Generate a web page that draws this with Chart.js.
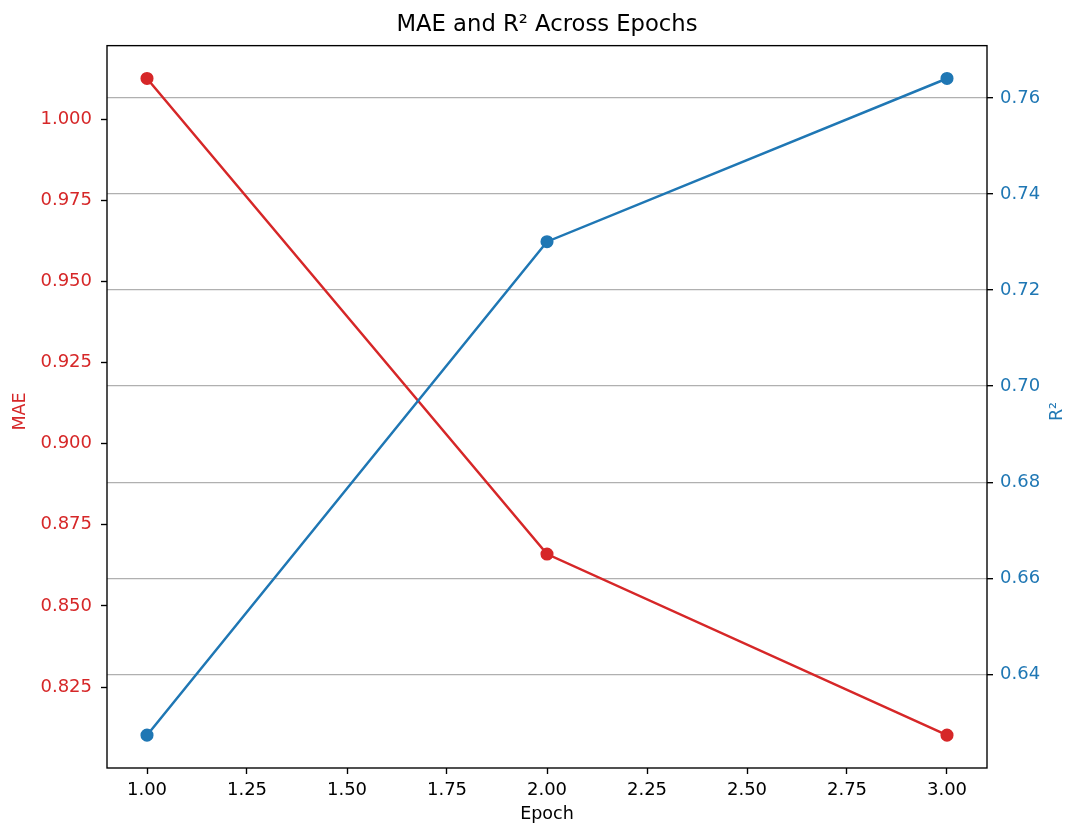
<!DOCTYPE html>
<html>
<head>
<meta charset="utf-8">
<script src="https://cdn.jsdelivr.net/npm/chart.js@4.4.0/dist/chart.umd.min.js"></script>
<style>
html,body{margin:0;padding:0;background:#ffffff;}
#wrap{width:1068px;height:825px;position:relative;}
</style>
</head>
<body>
<div id="wrap"><canvas id="c" width="1068" height="825"></canvas></div>
<script>
// ---- data ----
const epochs = [1, 2, 3];
const maeValues = [1.0125, 0.8660, 0.8102];
const r2Values = [0.6273, 0.7301, 0.7641];
const xTicks = [1.00, 1.25, 1.50, 1.75, 2.00, 2.25, 2.50, 2.75, 3.00];
const maeTicks = [0.825, 0.850, 0.875, 0.900, 0.925, 0.950, 0.975, 1.000];
const r2Ticks = [0.64, 0.66, 0.68, 0.70, 0.72, 0.74, 0.76];
const chartTitle = 'MAE and R² Across Epochs';
const xTitle = 'Epoch';
const maeTitle = 'MAE';
const r2Title = 'R²';

// ---- style ----
const RED = '#d62728';
const BLUE = '#1f77b4';
const FONT = 'DejaVu Sans';
const TICK_FONT = {family: FONT, size: 18};
const LABEL_SIZE = 17.5;
const SPINE_W = 1.37;

function padRange(arr) {
  const lo = Math.min(...arr), hi = Math.max(...arr), m = (hi - lo) * 0.05;
  return [lo - m, hi + m];
}
const xRange = padRange(epochs);
const maeRange = padRange(maeValues);
const r2Range = padRange(r2Values);

const toPoints = (xs, ys) => xs.map((x, i) => ({x: x, y: ys[i]}));
const setTicks = list => scale => { scale.ticks = list.map(v => ({value: v})); };

const decorPlugin = {
  id: 'decor',
  afterDatasetsDraw(chart) {
    const {ctx, chartArea: a} = chart;
    ctx.save();
    ctx.strokeStyle = '#000';
    ctx.lineWidth = SPINE_W;
    ctx.strokeRect(a.left, a.top, a.right - a.left, a.bottom - a.top);
    ctx.restore();
  },
  afterDraw(chart) {
    const {ctx} = chart;
    const cy = 411.5;
    ctx.save();
    ctx.font = LABEL_SIZE + 'px "' + FONT + '"';
    ctx.textAlign = 'center';
    ctx.textBaseline = 'middle';
    ctx.fillStyle = RED;
    ctx.translate(20.5, cy);
    ctx.rotate(-Math.PI / 2);
    ctx.fillText(maeTitle, 0, 0);
    ctx.restore();
    ctx.save();
    ctx.font = LABEL_SIZE + 'px "' + FONT + '"';
    ctx.textAlign = 'center';
    ctx.textBaseline = 'middle';
    ctx.fillStyle = BLUE;
    ctx.translate(1057.5, cy);
    ctx.rotate(-Math.PI / 2);
    ctx.fillText(r2Title, 0, 0);
    ctx.restore();
  }
};

new Chart(document.getElementById('c'), {
  type: 'line',
  data: {
    datasets: [
      {
        label: 'R²', data: toPoints(epochs, r2Values), yAxisID: 'y2', order: 1,
        borderColor: BLUE, backgroundColor: BLUE, borderWidth: 2.5,
        pointRadius: 5.8, pointBorderWidth: 1.5, pointBorderColor: BLUE, pointBackgroundColor: BLUE,
        tension: 0, fill: false
      },
      {
        label: 'MAE', data: toPoints(epochs, maeValues), yAxisID: 'y', order: 2,
        borderColor: RED, backgroundColor: RED, borderWidth: 2.5,
        pointRadius: 5.8, pointBorderWidth: 1.5, pointBorderColor: RED, pointBackgroundColor: RED,
        tension: 0, fill: false
      }
    ]
  },
  options: {
    responsive: false,
    animation: false,
    devicePixelRatio: 1,
    layout: {padding: 0},
    plugins: {
      legend: {display: false},
      tooltip: {enabled: false},
      title: {
        display: true, text: chartTitle, color: '#000', fullSize: false, align: 'center',
        font: {family: FONT, size: 22.7, weight: 'normal'},
        padding: {top: 11.9, bottom: 6.5}
      }
    },
    scales: {
      x: {
        type: 'linear', position: 'bottom', min: xRange[0], max: xRange[1],
        afterBuildTicks: setTicks(xTicks),
        afterFit(s) { s.height = 57; },
        ticks: {callback: v => Number(v).toFixed(2), color: '#000', font: TICK_FONT, padding: 6, maxRotation: 0, autoSkip: false},
        grid: {display: true, drawOnChartArea: false, drawTicks: true, tickLength: 6, tickColor: '#000', tickWidth: SPINE_W},
        border: {display: false},
        title: {display: true, text: xTitle, color: '#000', font: {family: FONT, size: LABEL_SIZE}, padding: {top: 0, bottom: 0}}
      },
      y: {
        type: 'linear', position: 'left', min: maeRange[0], max: maeRange[1],
        afterBuildTicks: setTicks(maeTicks),
        afterFit(s) { s.width = 107; },
        ticks: {callback: v => Number(v).toFixed(3), color: RED, font: TICK_FONT, padding: 9, autoSkip: false},
        grid: {display: true, drawOnChartArea: false, drawTicks: true, tickLength: 6, tickColor: '#000', tickWidth: SPINE_W},
        border: {display: false},
        title: {display: false}
      },
      y2: {
        type: 'linear', position: 'right', min: r2Range[0], max: r2Range[1],
        afterBuildTicks: setTicks(r2Ticks),
        afterFit(s) { s.width = 81; },
        ticks: {callback: v => Number(v).toFixed(2), color: BLUE, font: TICK_FONT, padding: 7, autoSkip: false},
        grid: {display: true, drawOnChartArea: true, color: '#b0b0b0', lineWidth: SPINE_W, drawTicks: true, tickLength: 6, tickColor: '#000', tickWidth: SPINE_W},
        border: {display: false},
        title: {display: false}
      }
    }
  },
  plugins: [decorPlugin]
});
</script>
</body>
</html>
